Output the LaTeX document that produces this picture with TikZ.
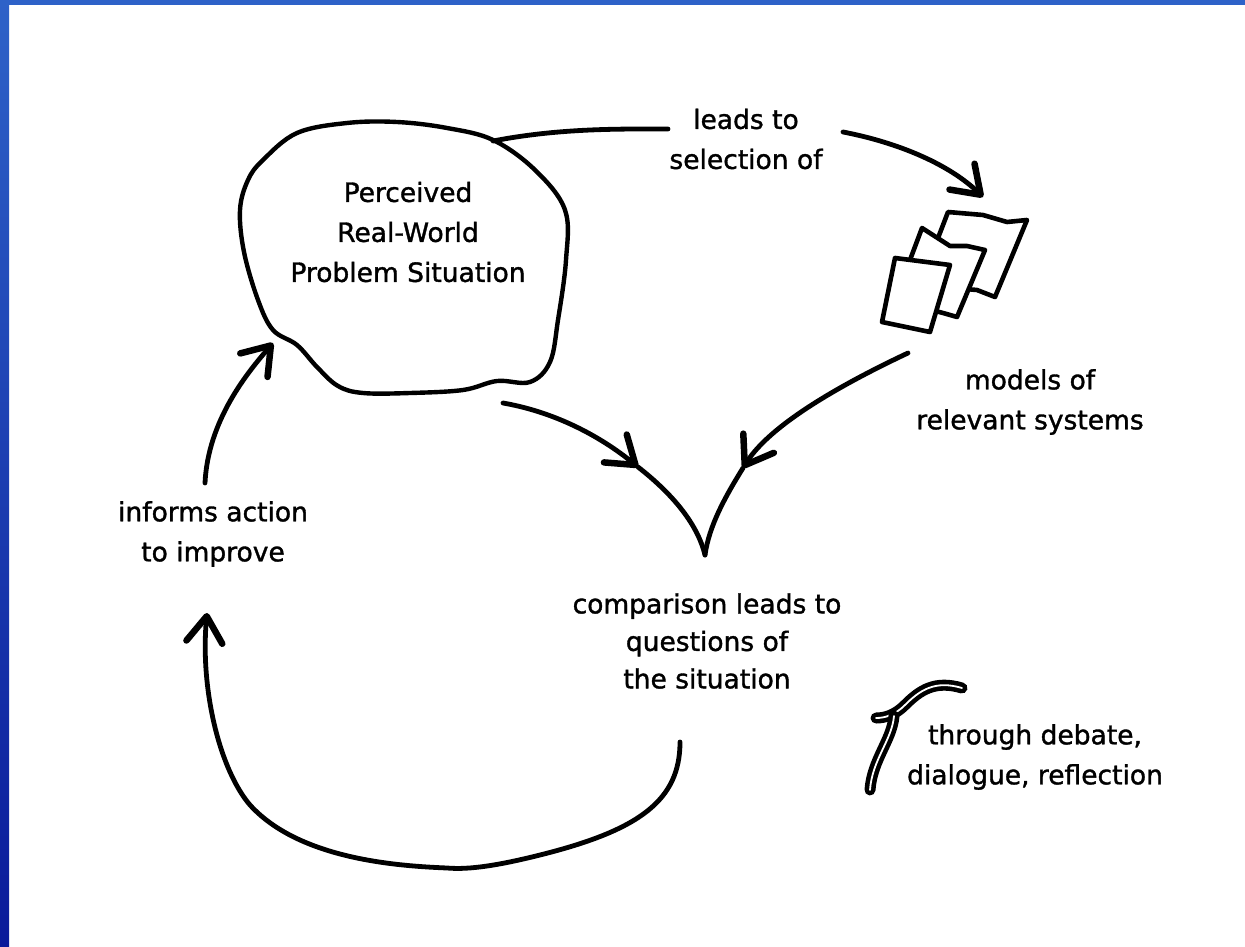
\documentclass[tikz,border=0pt]{standalone}
\usepackage{fontspec}
\setmainfont{DejaVu Sans}[BoldFont={DejaVu Sans}, BoldFeatures={FakeBold=1.3}]
\usetikzlibrary{arrows.meta}
\definecolor{bordertop}{HTML}{2E62C8}
\definecolor{borderbot}{HTML}{0A1A9A}
\begin{document}
\begin{tikzpicture}[x=1pt,y=-1pt,
  ink/.style={line width=4.4pt, line cap=round, line join=round},
  conn/.style={line width=4.8pt, line cap=round, line join=round},
  tipv/.style={-{Straight Barb[length=26pt,width=36pt,line width=6.5pt,round]}},
  label/.style={font=\fontsize{26.5}{40}\selectfont\bfseries, align=center, inner sep=0pt},
  paper/.style={ink, line width=4.6pt, fill=white},
  squig/.style={line width=4.6pt, double=white, double distance=1.8pt, line cap=round, line join=round}]
% canvas and frame
\useasboundingbox (0,0) rectangle (1245,947);
\fill[white] (0,0) rectangle (1245,947);
\shade[top color=bordertop, bottom color=borderbot] (0,0) rectangle (9,947);
\fill[bordertop] (0,0) rectangle (1245,5);

% blob: perceived real-world problem situation
\draw[ink] plot[smooth cycle, tension=0.6] coordinates {
  (263,160) (297,133) (347,123) (397,122) (447,128) (493,140) (535,170)
  (565,210) (566,260) (558,320) (550,362) (530,382) (497,381) (463,390)
  (410,393) (363,393) (338,386) (317,367) (297,345) (273,330) (258,300)
  (244,252) (240,210) (248,180)};
\node[label] (prs) at (408,232) {Perceived\\Real-World\\Problem Situation};

% text nodes
\node[label] (leads) at (746,139) {leads to\\selection of};
\node[label] (models) at (1030,402) {models of\\relevant systems};
\node[label, font=\fontsize{26.5}{37.5}\selectfont\bfseries] (comp) at (707,641) {comparison leads to\\questions of\\the situation};
\node[label] (informs) at (213,534) {informs action\\to improve};
\node[label] (debate) at (1035,757) {through debate,\\dialogue, reflection};

% connector end points
\coordinate (b1) at (493,141);
\coordinate (l1) at (668,129);
\coordinate (l2) at (843,132);
\coordinate (pt) at (983,197);
\coordinate (b2) at (503,403);
\coordinate (vl) at (638,467);
\coordinate (m1) at (908,353);
\coordinate (vr) at (743,468);
\coordinate (vb) at (705,555);
\coordinate (c1) at (680,742);
\coordinate (it) at (207,613);
\coordinate (i1) at (205,483);
\coordinate (bt) at (273,343);

% papers (back to front)
\draw[paper] (948,212) -- (983,215) -- (1007,222) -- (1027,220) -- (995,297) -- (977,290) -- (920,285) -- cycle;
\draw[paper] (922,228) -- (950,246) -- (967,246) -- (985,250) -- (957,317) -- (943,313) -- (895,300) -- cycle;
\draw[paper] (895,258) -- (950,265) -- (930,332) -- (882,322) -- cycle;

% connectors
\draw[conn] (b1) .. controls (560,128) and (620,129) .. (l1);
\draw[conn, tipv] (l2) .. controls (900,143) and (950,165) .. (pt);
\draw[conn, tipv] (b2) .. controls (560,413) and (605,440) .. (vl);
\draw[conn] (vl) .. controls (670,492) and (697,522) .. (vb);
\draw[conn, tipv] (m1) .. controls (840,385) and (770,425) .. (vr);
\draw[conn] (vr) .. controls (725,497) and (709,526) .. (vb);
\draw[conn, tipv] (c1) .. controls (680,800) and (640,830) .. (540,855)
   .. controls (500,865) and (470,870) .. (447,868)
   .. controls (400,866) and (300,860) .. (250,805)
   .. controls (220,770) and (200,690) .. (it);
\draw[conn, tipv] (i1) .. controls (208,420) and (248,372) .. (bt);

% debate squiggle
\draw[squig] (962,688) .. controls (935,680) and (920,690) .. (905,705) .. controls (895,715) and (885,718) .. (876,718);
\draw[squig] (894,716) .. controls (892,740) and (872,760) .. (870,790);
\end{tikzpicture}
\end{document}
